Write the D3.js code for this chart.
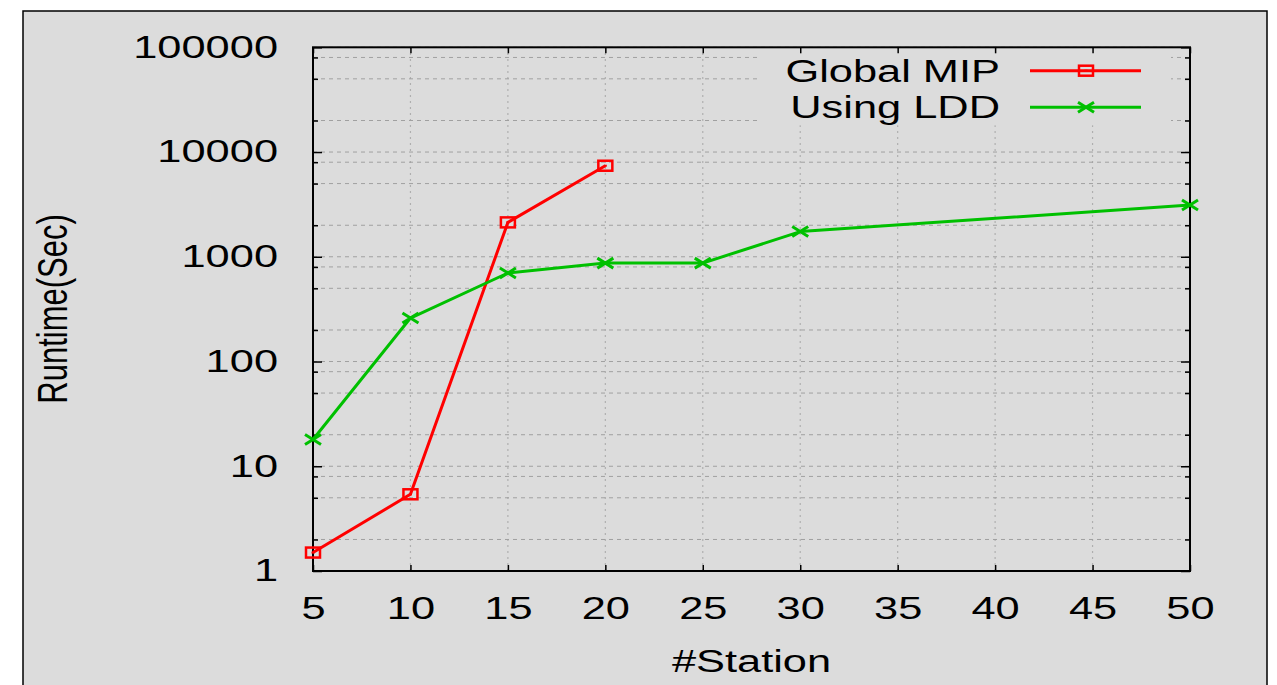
<!DOCTYPE html>
<html lang="en">
<head>
    <meta charset="UTF-8">
    <title>Runtime vs #Station</title>
    <script src="https://cdn.jsdelivr.net/npm/d3@7"></script>
    <style>
        body { margin: 0; background: #fff; }
        text { font-family: "Liberation Sans", Arial, Helvetica, sans-serif; fill: #000; }
    </style>
</head>
<body>
    <svg width="1277" height="685" id="mainsvg"></svg>
    <script>
        // data
        const stations = [5, 10, 15, 20, 25, 30, 35, 40, 45, 50];
        const mipStations = [5, 10, 15, 20];
        const mipRuntime = [1.5, 5.4, 2130, 7400];
        const lddStations = [5, 10, 15, 20, 25, 30, 50];
        const lddRuntime = [18, 260, 700, 870, 870, 1740, 3120];
        const yMajorTicks = [1, 10, 100, 1000, 10000, 100000];
        const yMinorTicks = [2, 5, 8, 20, 50, 80, 200, 500, 800, 2000, 5000, 8000, 20000, 50000, 80000];
        const seriesNames = ['Global MIP', 'Using LDD'];

        const svg = d3.select('svg');
        const bg = '#dcdcdc';
        const sx = 1.4; // the picture is stretched horizontally, so is the text
        const fontSize = 31;

        // outer frame
        svg.append('rect').attr('x', 23).attr('y', 11).attr('width', 1244).attr('height', 700)
            .attr('fill', bg).attr('stroke', '#000').attr('stroke-width', 1.5);

        const plot = {left: 313, right: 1190, top: 47.3, bottom: 571};
        const xScale = d3.scaleLinear().domain([5, 50]).range([plot.left, plot.right]);
        const yScale = d3.scaleLog().domain([1, 100000]).range([plot.bottom, plot.top]);

        // grid
        const grid = svg.append('g');
        grid.selectAll('.hgrid').data(yMajorTicks.concat(yMinorTicks)).join('line')
            .attr('class', 'hgrid')
            .attr('x1', plot.left).attr('x2', plot.right)
            .attr('y1', d => yScale(d)).attr('y2', d => yScale(d))
            .attr('stroke', '#a0a0a0').attr('stroke-width', 1).attr('stroke-dasharray', '4,4');
        grid.selectAll('.vgrid').data(stations.slice(1, -1)).join('line')
            .attr('class', 'vgrid')
            .attr('x1', d => xScale(d)).attr('x2', d => xScale(d))
            .attr('y1', plot.top).attr('y2', plot.bottom)
            .attr('stroke', '#a0a0a0').attr('stroke-width', 1.2).attr('stroke-dasharray', '1.5,4.5');

        // legend box hides the grid behind it
        svg.append('rect').attr('x', 757).attr('y', plot.top + 1).attr('width', 414).attr('height', 77)
            .attr('fill', bg);

        // axes, ticks point inward
        const axisStyle = g => {
            g.select('.domain').remove();
            g.selectAll('.tick line').attr('stroke', '#000').attr('stroke-width', 1.5);
            g.selectAll('.tick text').attr('font-size', fontSize).attr('fill', '#000');
        };
        svg.append('g').attr('transform', `translate(0, ${plot.bottom})`)
            .call(d3.axisBottom(xScale).tickValues(stations).tickSize(-6).tickPadding(26).tickFormat(d3.format('d')))
            .call(axisStyle)
            .selectAll('.tick text').attr('font-family', null).attr('transform', `scale(${sx},1)`);
        svg.append('g').attr('transform', `translate(0, ${plot.top})`)
            .call(d3.axisTop(xScale).tickValues(stations).tickSize(-6).tickFormat(''))
            .call(axisStyle);
        svg.append('g').attr('transform', `translate(${plot.left}, 0)`)
            .call(d3.axisLeft(yScale).tickValues(yMajorTicks).tickSize(-9).tickPadding(35 / sx).tickFormat(d3.format('d')))
            .call(axisStyle)
            .selectAll('.tick text').attr('font-family', null).attr('transform', `scale(${sx},1)`);
        svg.append('g').attr('transform', `translate(${plot.left}, 0)`)
            .call(d3.axisLeft(yScale).tickValues(yMinorTicks).tickSize(-5).tickFormat(''))
            .call(axisStyle);
        svg.append('g').attr('transform', `translate(${plot.right}, 0)`)
            .call(d3.axisRight(yScale).tickValues(yMajorTicks).tickSize(-9).tickFormat(''))
            .call(axisStyle);
        svg.append('g').attr('transform', `translate(${plot.right}, 0)`)
            .call(d3.axisRight(yScale).tickValues(yMinorTicks).tickSize(-5).tickFormat(''))
            .call(axisStyle);

        // border of the plot
        svg.append('rect').attr('x', plot.left).attr('y', plot.top)
            .attr('width', plot.right - plot.left).attr('height', plot.bottom - plot.top)
            .attr('fill', 'none').attr('stroke', '#000').attr('stroke-width', 2);

        // axis titles
        svg.append('text').text('#Station')
            .attr('transform', `translate(${(plot.left + plot.right) / 2}, 672) scale(${sx},1)`)
            .attr('text-anchor', 'middle').attr('font-size', fontSize);
        svg.append('text').text('Runtime(Sec)')
            .attr('transform', `translate(67, 309) scale(${sx},1) rotate(-90)`)
            .attr('text-anchor', 'middle').attr('font-size', fontSize);

        // markers
        const drawSquare = (g, color) => {
            g.append('rect').attr('x', -7).attr('y', -5).attr('width', 14).attr('height', 10)
                .attr('fill', 'none').attr('stroke', color).attr('stroke-width', 2.5);
            g.append('rect').attr('x', -1.5).attr('y', -1).attr('width', 3).attr('height', 2).attr('fill', color);
        };
        const drawCross = (g, color) => {
            g.append('path').attr('d', 'M-8,-5L8,5M-8,5L8,-5')
                .attr('stroke', color).attr('stroke-width', 3).attr('fill', 'none');
        };

        const series = [
            {name: seriesNames[0], xs: mipStations, ys: mipRuntime, color: '#ff0000', marker: drawSquare},
            {name: seriesNames[1], xs: lddStations, ys: lddRuntime, color: '#00c000', marker: drawCross}
        ];
        const line = d3.line().x(d => xScale(d[0])).y(d => yScale(d[1]));

        series.forEach((s, i) => {
            const pts = s.xs.map((x, j) => [x, s.ys[j]]);
            svg.append('path').datum(pts).attr('d', line)
                .attr('fill', 'none').attr('stroke', s.color).attr('stroke-width', 3).attr('stroke-linejoin', 'round');
            svg.selectAll(`.mk${i}`).data(pts).join('g').attr('class', `mk${i}`)
                .attr('transform', d => `translate(${xScale(d[0])}, ${yScale(d[1])})`)
                .each(function() { s.marker(d3.select(this), s.color); });

            // legend row
            const ly = 70.7 + i * 36.6;
            svg.append('text').text(s.name)
                .attr('transform', `translate(1000, ${ly}) scale(${sx},1)`)
                .attr('text-anchor', 'end').attr('dy', '0.35em').attr('font-size', fontSize);
            svg.append('line').attr('x1', 1030).attr('x2', 1141).attr('y1', ly).attr('y2', ly)
                .attr('stroke', s.color).attr('stroke-width', 3);
            s.marker(svg.append('g').attr('transform', `translate(1086, ${ly})`), s.color);
        });
    </script>
</body>
</html>
